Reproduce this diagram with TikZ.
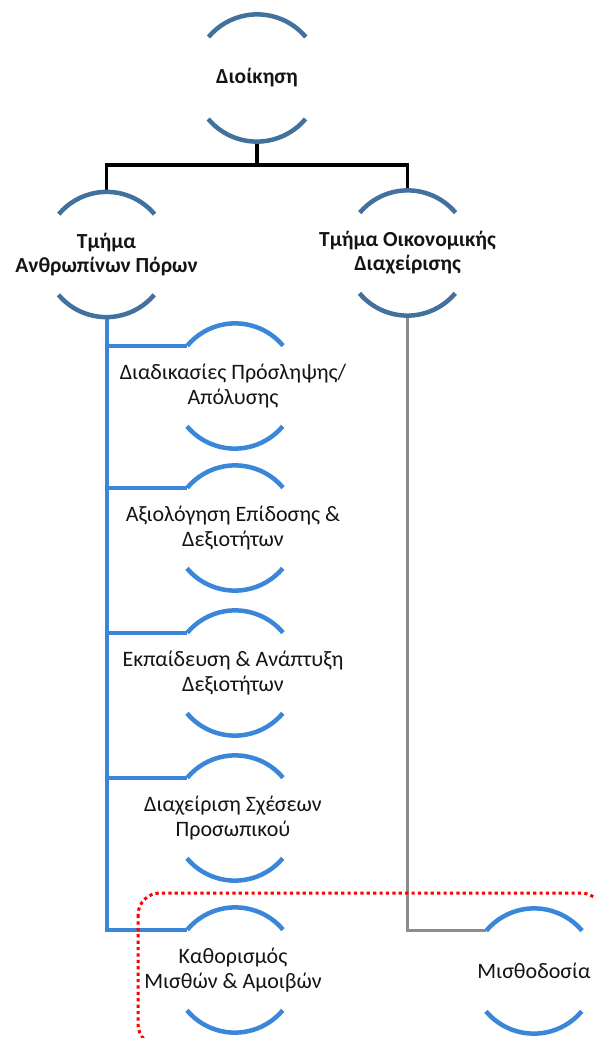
\documentclass[tikz,border=0pt]{standalone}
\usepackage{fontspec}
\usetikzlibrary{calc}
\setmainfont{Carlito}
\definecolor{arcdark}{RGB}{65,113,156}
\definecolor{arclight}{RGB}{58,134,216}
\definecolor{linegrey}{RGB}{140,140,140}
\definecolor{txtcol}{RGB}{20,20,20}
\tikzset{
  ring/.style={circle, draw=none, inner sep=0pt, minimum size=125pt},
  ringtop/.style={circle, draw=none, inner sep=0pt, minimum size=127pt},
  txtb/.style={align=center, text=txtcol, inner sep=0pt, font=\fontsize{21.5}{24}\selectfont\bfseries},
  txtn/.style={align=center, text=txtcol, inner sep=0pt, font=\fontsize{22}{24.5}\selectfont},
  blk/.style={draw=black, line width=3.5pt},
  blu/.style={draw=arclight, line width=4pt},
  gry/.style={draw=linegrey, line width=3.5pt},
  arcline/.style={line width=4.5pt},
  reddots/.style={draw=red, line width=3pt, dash pattern=on 3.2pt off 3.2pt, rounded corners=22pt}
}
\begin{document}
\begin{tikzpicture}[x=1pt,y=1pt]
\useasboundingbox (0,0) rectangle (594,-1038);
% circle nodes
\node[ringtop] (top) at (257,-78) {};
\node[ring] (hr) at (106.5,-254.5) {};
\node[ring] (fin) at (407.5,-253) {};
\node[ring] (c1) at (235,-386) {};
\node[ring] (c2) at (235,-528) {};
\node[ring] (c3) at (235,-673) {};
\node[ring] (c4) at (235,-818) {};
\node[ring] (c5) at (235,-970) {};
\node[ring] (pay) at (534,-971) {};
% texts
\node[txtb] (ttop) at (top) {Διοίκηση};
\node[txtb] (thr) at (hr) {Τμήμα\\Ανθρωπίνων Πόρων};
\node[txtb] (tfin) at (fin) {Τμήμα Οικονομικής\\Διαχείρισης};
\node[txtn] (t1) at ($(c1)+(-2,0)$) {Διαδικασίες Πρόσληψης/\\Απόλυσης};
\node[txtn] (t2) at ($(c2)+(-2,0)$) {Αξιολόγηση Επίδοσης \&\\Δεξιοτήτων};
\node[txtn] (t3) at ($(c3)+(-2,0)$) {Εκπαίδευση \& Ανάπτυξη\\Δεξιοτήτων};
\node[txtn] (t4) at ($(c4)+(-2,0)$) {Διαχείριση Σχέσεων\\Προσωπικού};
\node[txtn] (t5) at ($(c5)+(-2,0)$) {Καθορισμός\\Μισθών \& Αμοιβών};
\node[txtn] (tpay) at (pay) {Μισθοδοσία};
% connectors
\coordinate (bus) at ($(top.south)+(0,-23.5)$);
\draw[blk] (top.south) -- (bus) -| (hr.north);
\draw[blk] (bus) -| (fin.north);
\draw[blu] (hr.south) -- (hr.south |- c5.140) -- (c5.140);
\foreach \c in {c1,c2,c3,c4} {
  \draw[blu] (hr.south |- \c.140) -- (\c.140);
}
\draw[gry] (fin.south) |- (pay.140);
% arcs
\foreach \n/\col/\r in {top/arcdark/63.5, hr/arcdark/62.5, fin/arcdark/62.5, c1/arclight/62.5, c2/arclight/62.5, c3/arclight/62.5, c4/arclight/62.5, c5/arclight/62.5, pay/arclight/62.5} {
  \draw[arcline, draw=\col] (\n.40) arc[start angle=40, end angle=140, radius=\r];
  \draw[arcline, draw=\col] (\n.220) arc[start angle=220, end angle=320, radius=\r];
}
% red dotted group
\begin{scope}
\clip (0,0) rectangle (594,-1038);
\draw[reddots] (138,-893) rectangle (603,-1046);
\end{scope}
\end{tikzpicture}
\end{document}
